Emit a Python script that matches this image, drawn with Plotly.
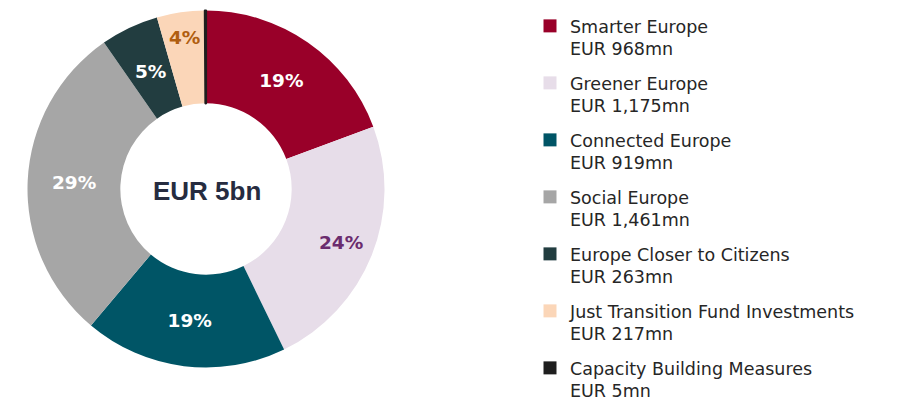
import math
import plotly.graph_objects as go

labels = ["Smarter Europe", "Greener Europe", "Connected Europe", "Social Europe",
          "Europe Closer to Citizens", "Just Transition Fund Investments",
          "Capacity Building Measures"]
amounts = [968, 1175, 919, 1461, 263, 217, 5]
amount_labels = ["EUR 968mn", "EUR 1,175mn", "EUR 919mn", "EUR 1,461mn",
                 "EUR 263mn", "EUR 217mn", "EUR 5mn"]
pct_labels = ["19%", "24%", "19%", "29%", "5%", "4%", ""]
colors = ["#990029", "#E7DDE9", "#005566", "#A6A6A6", "#223D40", "#FBD6B8", "#1E1E1E"]
text_colors = ["#FFFFFF", "#6B2C6E", "#FFFFFF", "#FFFFFF", "#FFFFFF", "#B05E10", "#FFFFFF"]
center_text = "EUR 5bn"

# style / layout (pixel geometry of the figure)
W, H = 908, 401
CX, CY, R = 198, 181, 178.5
HOLE = 0.48
inside_pos = ["inside", "none", "inside", "inside", "none", "none", "none"]
label_radius = [None, 145, None, None, 130, 153, None]
edge_width = [0, 0, 0, 0, 0, 0, 2.2]
PCT_FONT = dict(family="Verdana, DejaVu Sans", size=18.5, weight="bold")

fig = go.Figure()

fig.add_trace(go.Pie(
    labels=labels,
    values=amounts,
    text=pct_labels,
    textinfo="text",
    textposition=inside_pos,
    insidetextorientation="horizontal",
    textfont=dict(**PCT_FONT, color=text_colors),
    marker=dict(colors=colors, line=dict(width=edge_width, color=colors)),
    hole=HOLE,
    sort=False,
    direction="clockwise",
    rotation=0,
    showlegend=False,
    domain=dict(x=[(CX - R) / W, (CX + R) / W],
                y=[1 - (CY + R) / H, 1 - (CY - R) / H]),
))

# labels placed at the middle angle of their slice
total = sum(amounts)
cum = 0
for v, t, c, rad in zip(amounts, pct_labels, text_colors, label_radius):
    mid = (cum + v / 2) / total
    cum += v
    if rad is None or not t:
        continue
    ang = 2 * math.pi * mid
    px = CX + rad * math.sin(ang)
    py = CY - rad * math.cos(ang)
    fig.add_annotation(x=px / W, y=1 - py / H, xref="paper", yref="paper",
                       xanchor="center", yanchor="middle",
                       text=t, showarrow=False, font=dict(**PCT_FONT, color=c))

for lab, amt, col in zip(labels, amount_labels, colors):
    fig.add_trace(go.Scatter(
        x=[None], y=[None], mode="markers",
        name=f"{lab}<br>{amt}",
        legendgroup=lab,
        marker=dict(symbol="square", size=13, color=col, line=dict(width=0)),
    ))

fig.add_annotation(
    x=(CX + 1) / W, y=1 - (CY + 2) / H, xref="paper", yref="paper",
    xanchor="center", yanchor="middle",
    text="<b>" + center_text + "</b>", showarrow=False,
    font=dict(family="Arial, Liberation Sans", size=26, color="#262C40"),
)

fig.update_layout(
    width=W, height=H,
    margin=dict(l=0, r=0, t=0, b=0),
    paper_bgcolor="white", plot_bgcolor="white",
    xaxis=dict(visible=False), yaxis=dict(visible=False),
    legend=dict(
        x=522 / W, y=1 - 21 / H, xanchor="left", yanchor="top",
        font=dict(family="Verdana, DejaVu Sans", size=17.5, color="#262626"),
        tracegroupgap=8.5, valign="top", itemsizing="trace",
        bgcolor="rgba(0,0,0,0)",
    ),
)

fig.write_html("out.html")
